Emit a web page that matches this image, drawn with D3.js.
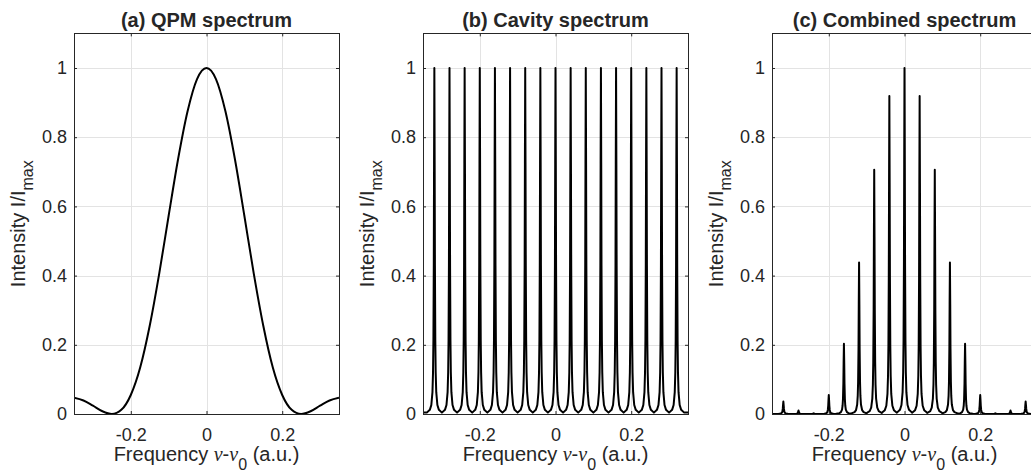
<!DOCTYPE html>
<html><head><meta charset="utf-8">
<script src="https://cdn.jsdelivr.net/npm/d3@7"></script>
<style>
body{margin:0;background:#fff}
svg{display:block}
text{font-family:"Liberation Sans",Arial,Helvetica,sans-serif;fill:#262626}
</style>
</head><body>
<svg id="chart" width="1031" height="474"></svg>
<script>
// ---- data ----
const qpmFreq = [-0.35,-0.325,-0.3,-0.275,-0.25,-0.225,-0.2,-0.175,-0.15,-0.125,-0.1,-0.075,-0.05,-0.025,0,
                 0.025,0.05,0.075,0.1,0.125,0.15,0.175,0.2,0.225,0.25,0.275,0.3,0.325,0.35];
const qpmIntensity = [0.047,0.039,0.024,0.008,0,0.012,0.055,0.135,0.255,0.405,0.573,0.737,0.875,0.968,1,
                      0.968,0.875,0.737,0.573,0.405,0.255,0.135,0.055,0.012,0,0.008,0.024,0.039,0.047];
const peakFreq = [-0.32,-0.28,-0.24,-0.2,-0.16,-0.12,-0.08,-0.04,0,0.04,0.08,0.12,0.16,0.2,0.24,0.28,0.32];
const cavityPeak = [1,1,1,1,1,1,1,1,1,1,1,1,1,1,1,1,1];
const combinedPeak = [0.036,0.010,0.002,0.055,0.203,0.438,0.706,0.919,1,0.919,0.706,0.438,0.203,0.055,0.002,0.010,0.036];
// line shape of one resonance (offset from its centre, relative height)
const lineOffset = [-0.02,-0.012,-0.008,-0.005,-0.0035,-0.0025,-0.0015,-0.0008,0,0.0008,0.0015,0.0025,0.0035,0.005,0.008,0.012,0.02];
const lineShape  = [0.004,0.012,0.026,0.063,0.121,0.213,0.429,0.725,1,0.725,0.429,0.213,0.121,0.063,0.026,0.012,0.004];
const xTicks = [-0.2,0,0.2];
const yTicks = [0,0.2,0.4,0.6,0.8,1];
const xTickLabels = ["-0.2","0","0.2"];
const yTickLabels = ["0","0.2","0.4","0.6","0.8","1"];
const titles = ["(a) QPM spectrum","(b) Cavity spectrum","(c) Combined spectrum"];
const xDomain = [-0.35,0.35];
const yDomain = [0,1.1];

// ---- layout ----
const svg = d3.select("#chart");
const panelLeft = [74,423,772];
const pw = 265, plotTop = 33.4, plotBottom = 414;

function peakSeries(heights){
  const pts = [[xDomain[0], lineShape[0]*heights[0]]];
  peakFreq.forEach((c,i)=>{
    lineOffset.forEach((o,j)=>{ pts.push([c+o, lineShape[j]*heights[i]]); });
  });
  pts.push([xDomain[1], lineShape[lineShape.length-1]*heights[heights.length-1]]);
  return pts;
}

const series = [
  qpmFreq.map((f,i)=>[f,qpmIntensity[i]]),
  peakSeries(cavityPeak),
  peakSeries(combinedPeak)
];

panelLeft.forEach((L,p)=>{
  const x = d3.scaleLinear().domain(xDomain).range([L, L+pw]);
  const y = d3.scaleLinear().domain(yDomain).range([plotBottom, plotTop]);
  const g = svg.append("g");

  // grid
  g.selectAll(".gx").data(xTicks).join("line")
    .attr("x1",d=>Math.round(x(d))+0.5).attr("x2",d=>Math.round(x(d))+0.5)
    .attr("y1",plotTop).attr("y2",plotBottom).attr("stroke","#e3e3e3").attr("stroke-width",1);
  g.selectAll(".gy").data(yTicks).join("line")
    .attr("y1",d=>Math.round(y(d))+0.5).attr("y2",d=>Math.round(y(d))+0.5)
    .attr("x1",L).attr("x2",L+pw).attr("stroke","#e3e3e3").attr("stroke-width",1);

  // data
  const cid = "clip"+p;
  svg.append("clipPath").attr("id",cid).append("rect")
    .attr("x",L).attr("y",plotTop-2).attr("width",pw).attr("height",plotBottom-plotTop+3);
  const line = d3.line().x(d=>x(d[0])).y(d=>y(d[1]))
    .curve(p===0 ? d3.curveMonotoneX : d3.curveLinear);
  g.append("path").datum(series[p]).attr("clip-path",`url(#${cid})`)
    .attr("d",line).attr("fill","none").attr("stroke","#000")
    .attr("stroke-width",2).attr("stroke-linejoin","round");

  // axes
  const style = sel=>{
    sel.selectAll("path,line").attr("stroke","#262626");
    sel.selectAll("text").attr("fill","#262626").style("font-size","18px")
      .style("font-family",'"Liberation Sans",Arial,Helvetica,sans-serif');
  };
  g.append("g").attr("transform",`translate(0,${plotBottom})`)
    .call(d3.axisBottom(x).tickValues(xTicks).tickSize(-3).tickSizeOuter(0).tickPadding(14)
      .tickFormat((d,i)=>xTickLabels[i]))
    .call(style).call(s=>s.select(".domain").remove());
  g.append("g").attr("transform",`translate(0,${plotTop})`)
    .call(d3.axisTop(x).tickValues(xTicks).tickSize(-3).tickSizeOuter(0).tickFormat(""))
    .call(style).call(s=>s.select(".domain").remove());
  g.append("g").attr("transform",`translate(${L},0)`)
    .call(d3.axisLeft(y).tickValues(yTicks).tickSize(-3).tickSizeOuter(0).tickPadding(7)
      .tickFormat((d,i)=>yTickLabels[i]))
    .call(style).call(s=>s.select(".domain").remove());
  g.append("g").attr("transform",`translate(${L+pw},0)`)
    .call(d3.axisRight(y).tickValues(yTicks).tickSize(-3).tickSizeOuter(0).tickFormat(""))
    .call(style).call(s=>s.select(".domain").remove());

  // box
  g.append("rect").attr("x",L+0.5).attr("y",Math.round(plotTop)+0.5)
    .attr("width",pw).attr("height",plotBottom-Math.round(plotTop))
    .attr("fill","none").attr("stroke","#262626").attr("stroke-width",1);

  // title
  g.append("text").attr("x",L+pw/2).attr("y",26.5).attr("text-anchor","middle")
    .style("font-size","20px").style("font-weight","bold").text(titles[p]);

  // x label
  const xl = g.append("text").attr("x",L+pw/2).attr("y",461).attr("text-anchor","middle")
    .style("font-size","20px");
  xl.append("tspan").text("Frequency ");
  xl.append("tspan").style("font-family",'"Liberation Serif","Times New Roman",serif')
    .style("font-style","italic").text("ν");
  xl.append("tspan").text("-");
  xl.append("tspan").style("font-family",'"Liberation Serif","Times New Roman",serif')
    .style("font-style","italic").text("ν");
  xl.append("tspan").attr("dy",9).style("font-size","16px").text("0");
  xl.append("tspan").attr("dy",-9).text(" (a.u.)");

  // y label
  const yl = g.append("text")
    .attr("transform",`translate(${L-49},${(plotTop+plotBottom)/2}) rotate(-90)`)
    .attr("text-anchor","middle").style("font-size","20px");
  yl.append("tspan").text("Intensity I/I");
  yl.append("tspan").attr("dy",8).style("font-size","16px").text("max");
});
</script>
</body></html>
